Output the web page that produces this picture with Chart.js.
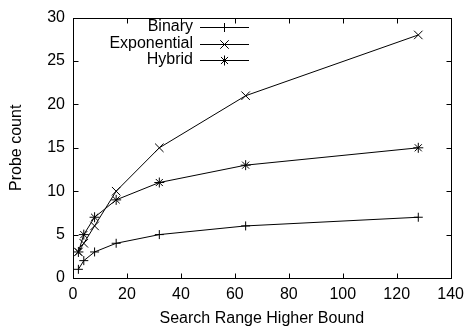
<!DOCTYPE html>
<html><head><meta charset="utf-8">
<script src="https://cdn.jsdelivr.net/npm/chart.js@4/dist/chart.umd.min.js"></script>
<style>html,body{margin:0;padding:0;background:#fff}</style>
</head><body>
<canvas id="c" width="471" height="332" style="display:block;width:471px;height:332px"></canvas>
<script>
// ---- data ----
const xValues = [2, 4, 8, 16, 32, 64, 128];
const binary = [1, 2, 3, 4, 5, 6, 7];
const exponential = [3, 4, 6, 10, 15, 21, 28];
const hybrid = [3, 5, 7, 9, 11, 13, 15];
const seriesNames = ['Binary', 'Exponential', 'Hybrid'];
const xTitle = 'Search Range Higher Bound';
const yTitle = 'Probe count';
const xRange = [0, 140, 20];
const yRange = [0, 30, 5];

const FONT = 'Liberation Sans, Arial, Helvetica, sans-serif';
const FSIZE = 16;

function pts(ys) { return xValues.map((x, i) => ({x: x, y: ys[i]})); }

const styles = [
  {pointStyle: 'cross', pointRadius: 4.5},
  {pointStyle: 'crossRot', pointRadius: 6},
  {pointStyle: 'star', pointRadius: 5}
];
const seriesData = [binary, exponential, hybrid];

const datasets = seriesNames.map((name, i) => ({
  label: name,
  data: pts(seriesData[i]),
  borderColor: '#000',
  backgroundColor: '#000',
  borderWidth: 1,
  pointStyle: styles[i].pointStyle,
  pointRadius: styles[i].pointRadius,
  pointBorderColor: '#000',
  pointBorderWidth: 1,
  pointHoverRadius: styles[i].pointRadius,
  tension: 0,
  fill: false
}));

const framePlugin = {
  id: 'frame',
  afterDatasetsDraw(chart) {
    const ctx = chart.ctx;
    const a = chart.chartArea;
    const xs = chart.scales.x, ys = chart.scales.y;
    ctx.save();
    ctx.strokeStyle = '#000';
    ctx.lineWidth = 1;
    const L = Math.round(a.left) + 0.5, R = Math.round(a.right) + 0.5;
    const T = Math.round(a.top) + 0.5, B = Math.round(a.bottom) + 0.5;
    ctx.strokeRect(L, T, R - L, B - T);
    const tl = 5;
    ctx.beginPath();
    xs.ticks.forEach(t => {
      const px = Math.round(xs.getPixelForValue(t.value)) + 0.5;
      ctx.moveTo(px, B); ctx.lineTo(px, B - tl);
      ctx.moveTo(px, T); ctx.lineTo(px, T + tl);
    });
    ys.ticks.forEach(t => {
      const py = Math.round(ys.getPixelForValue(t.value)) + 0.5;
      ctx.moveTo(L, py); ctx.lineTo(L + tl, py);
      ctx.moveTo(R, py); ctx.lineTo(R - tl, py);
    });
    ctx.stroke();

    // legend (gnuplot style: text then sample)
    const textRight = 193, lineStart = 200, lineEnd = 249, markX = 224.5;
    const y0 = 27, dy = 16.5;
    ctx.font = FSIZE + 'px ' + FONT;
    ctx.fillStyle = '#000';
    ctx.textAlign = 'right';
    ctx.textBaseline = 'middle';
    chart.data.datasets.forEach((ds, i) => {
      const y = y0 + i * dy;
      ctx.fillText(ds.label, textRight, y);
      const ly = Math.round(y) + 0.5;
      ctx.beginPath();
      ctx.moveTo(lineStart, ly); ctx.lineTo(lineEnd, ly);
      ctx.strokeStyle = ds.borderColor;
      ctx.lineWidth = ds.borderWidth;
      ctx.stroke();
      ctx.strokeStyle = ds.pointBorderColor;
      ctx.fillStyle = ds.backgroundColor;
      Chart.helpers.drawPoint(ctx, {pointStyle: ds.pointStyle, radius: ds.pointRadius, borderWidth: 1, rotation: 0}, markX, ly);
      ctx.fillStyle = '#000';
    });
    ctx.restore();
  }
};

new Chart(document.getElementById('c'), {
  type: 'line',
  data: {datasets: datasets},
  options: {
    responsive: false,
    animation: false,
    layout: {padding: {left: 0, right: 17, top: 14, bottom: 0}},
    plugins: {legend: {display: false}, tooltip: {enabled: false}},
    scales: {
      x: {
        type: 'linear',
        min: xRange[0], max: xRange[1],
        grid: {display: false, drawTicks: false},
        border: {display: false},
        ticks: {stepSize: xRange[2], color: '#000', padding: 7, maxRotation: 0,
                font: {family: FONT, size: FSIZE}},
        title: {display: true, text: xTitle, color: '#000', padding: {top: 0, bottom: 4},
                font: {family: FONT, size: FSIZE}},
        afterFit(s) { s.height = 54; }
      },
      y: {
        type: 'linear',
        min: yRange[0], max: yRange[1],
        grid: {display: false, drawTicks: false},
        border: {display: false},
        ticks: {stepSize: yRange[2], color: '#000', padding: 8,
                font: {family: FONT, size: FSIZE}},
        title: {display: true, text: yTitle, color: '#000', padding: {top: 7, bottom: 0},
                font: {family: FONT, size: FSIZE}},
        afterFit(s) { s.width = 73; }
      }
    }
  },
  plugins: [framePlugin]
});
</script>
</body></html>
